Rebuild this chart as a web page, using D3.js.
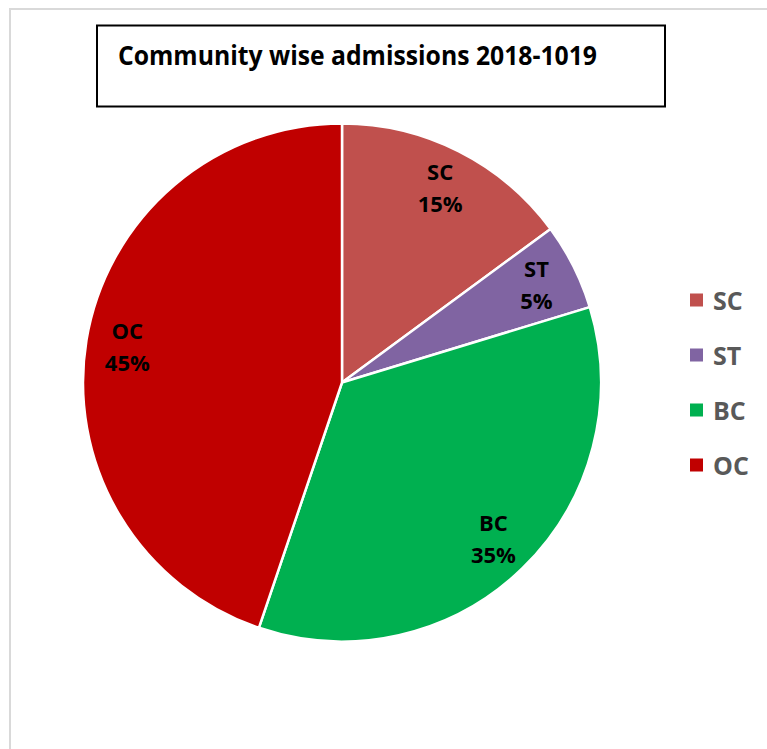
<!DOCTYPE html>
<html>
<head>
<meta charset="utf-8">
<script src="https://cdn.jsdelivr.net/npm/d3@7"></script>
<style>
  html, body { margin: 0; padding: 0; background: #fff; }
  svg { display: block; }
</style>
</head>
<body>
<svg id="chart" width="767" height="749"></svg>
<script>
const titleText = "Community wise admissions 2018-1019";
const categories = ["SC", "ST", "BC", "OC"];
const values = [14.9, 5.4, 34.9, 44.8];
const colors = ["#C0504D", "#8064A2", "#00B050", "#C00000"];

const svg = d3.select("#chart");
const font = "'Open Sans', Lato, sans-serif";

// outer chart border
svg.append("rect")
  .attr("x", 10).attr("y", 9)
  .attr("width", 900).attr("height", 900)
  .attr("fill", "#fff")
  .attr("stroke", "#d9d9d9").attr("stroke-width", 2);

// title box
svg.append("rect")
  .attr("x", 97).attr("y", 25.5)
  .attr("width", 568).attr("height", 81)
  .attr("fill", "#fff")
  .attr("stroke", "#000").attr("stroke-width", 2);

svg.append("text")
  .attr("x", 118).attr("y", 64.5)
  .attr("font-family", font)
  .attr("font-weight", "bold")
  .attr("font-size", 26.5)
  .attr("fill", "#000")
  .attr("textLength", 479)
  .attr("lengthAdjust", "spacingAndGlyphs")
  .text(titleText);

// pie
const cx = 342, cy = 382.5, R = 259;
const data = categories.map((c, i) => ({ cat: c, value: values[i], color: colors[i] }));
const total = d3.sum(values);
const pie = d3.pie().value(d => d.value).sort(null);
const arc = d3.arc().innerRadius(0).outerRadius(R);
const labelArc = d3.arc().innerRadius(R * 0.84).outerRadius(R * 0.84);

const g = svg.append("g").attr("transform", `translate(${cx},${cy})`);
const arcs = pie(data);

g.selectAll("path.slice")
  .data(arcs)
  .join("path")
  .attr("class", "slice")
  .attr("d", arc)
  .attr("fill", d => d.data.color)
  .attr("stroke", "#fff")
  .attr("stroke-width", 2.5)
  .attr("stroke-linejoin", "round");

const labels = g.selectAll("text.lbl")
  .data(arcs)
  .join("text")
  .attr("class", "lbl")
  .attr("transform", d => {
    const [x, y] = labelArc.centroid(d);
    return `translate(${x},${y})`;
  })
  .attr("text-anchor", "middle")
  .attr("font-family", font)
  .attr("font-weight", "bold")
  .attr("font-size", 22)
  .attr("fill", "#000");

labels.append("tspan")
  .attr("x", 0).attr("dy", -8)
  .text(d => d.data.cat);
labels.append("tspan")
  .attr("x", 0).attr("dy", 32)
  .text(d => Math.round(d.data.value / total * 100) + "%");

// legend
const legendY = d3.scalePoint().domain(categories).range([300, 465]);
const lg = svg.append("g");
const items = lg.selectAll("g.item")
  .data(data)
  .join("g")
  .attr("class", "item")
  .attr("transform", d => `translate(690,${legendY(d.cat)})`);

items.append("rect")
  .attr("x", 0).attr("y", -6.5)
  .attr("width", 13).attr("height", 13)
  .attr("fill", d => d.color);

items.append("text")
  .attr("x", 23).attr("y", 9.5)
  .attr("font-family", font)
  .attr("font-weight", "bold")
  .attr("font-size", 25)
  .attr("fill", "#595959")
  .text(d => d.cat);
</script>
</body>
</html>
